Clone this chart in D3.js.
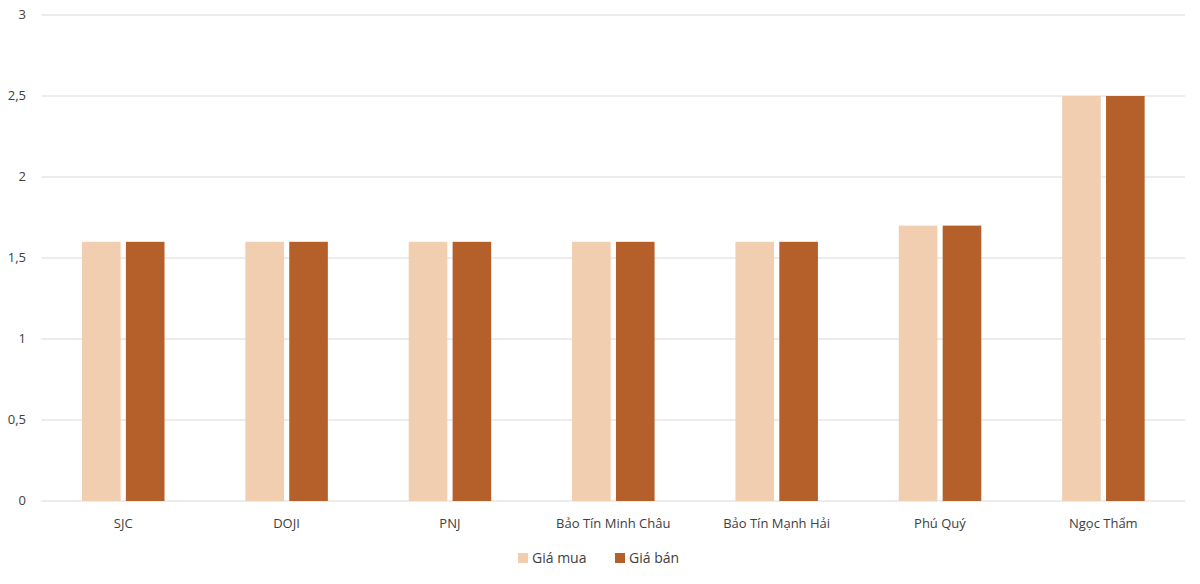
<!DOCTYPE html>
<html><head><meta charset="utf-8">
<script src="https://cdn.jsdelivr.net/npm/d3@7/dist/d3.min.js"></script>
<style>body{margin:0;background:#fff}text{font-family:"Open Sans","Noto Sans",sans-serif;fill:#404040}</style>
</head><body><svg id="c" width="1200" height="584"></svg>
<script>
const categories=["SJC","DOJI","PNJ","Bảo Tín Minh Châu","Bảo Tín Mạnh Hải","Phú Quý","Ngọc Thẩm"];
const giaMua=[1.6,1.6,1.6,1.6,1.6,1.7,2.5];
const giaBan=[1.6,1.6,1.6,1.6,1.6,1.7,2.5];
const seriesNames=["Giá mua","Giá bán"];
const colors=["#F2CEB0","#B5602A"];
const yTicks=[0,0.5,1,1.5,2,2.5,3];
const svg=d3.select("#c");
const x=d3.scaleBand().domain(categories).range([41.5,1185]);
const y=d3.scaleLinear().domain([0,3]).range([501,15]);
const xs=d3.scaleBand().domain(seriesNames).range([40.5,123]).paddingInner(0.12);
const fmt=d=>String(d).replace(".",",");
svg.append("g").selectAll("line").data(yTicks).join("line")
 .attr("x1",41.5).attr("x2",1185).attr("y1",d=>y(d)).attr("y2",d=>y(d))
 .attr("stroke","#d9d9d9").attr("stroke-width",1);
svg.append("g").selectAll("text").data(yTicks).join("text")
 .attr("x",26).attr("y",d=>y(d)+4).attr("text-anchor","end").attr("font-size",13).text(fmt);
const data=[giaMua,giaBan];
data.forEach((vals,si)=>{
 svg.append("g").selectAll("rect").data(vals).join("rect")
  .attr("x",(d,i)=>x(categories[i])+xs(seriesNames[si])).attr("width",xs.bandwidth())
  .attr("y",d=>y(d)).attr("height",d=>y(0)-y(d)).attr("fill",colors[si]);
});
svg.append("g").selectAll("text").data(categories).join("text")
 .attr("x",d=>x(d)+x.bandwidth()/2).attr("y",528).attr("text-anchor","middle").attr("font-size",13).text(d=>d);
const lg=svg.append("g");
const lx=[518,615];
seriesNames.forEach((n,i)=>{
 lg.append("rect").attr("x",lx[i]).attr("y",553).attr("width",10).attr("height",10).attr("fill",colors[i]);
 lg.append("text").attr("x",lx[i]+14).attr("y",563).attr("font-size",14).text(n);
});
</script></body></html>
